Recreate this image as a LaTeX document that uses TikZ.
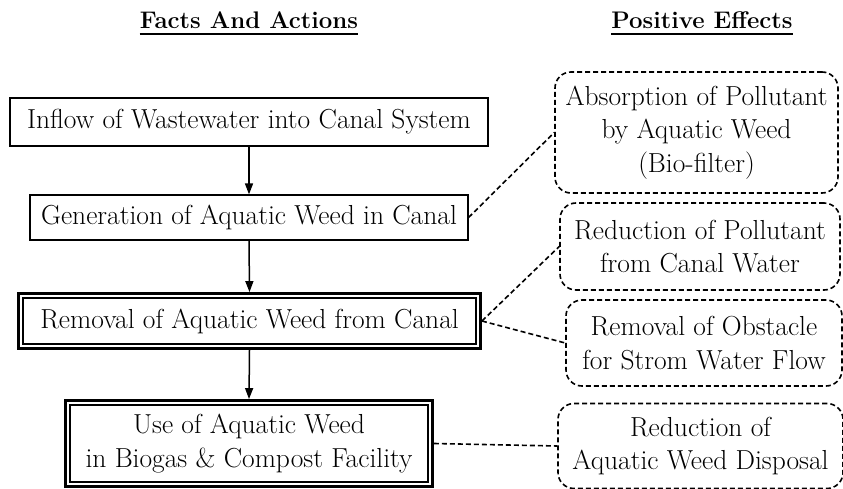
\documentclass[tikz,border=0pt]{standalone}
\usepackage{fontspec}
\setmainfont{Latin Modern Roman}
\usetikzlibrary{arrows.meta,calc,fit}
\begin{document}
\begin{tikzpicture}[x=1pt,y=1pt,
  txt/.style={font=\rmfamily\fontsize{27.5}{33.5}\selectfont, align=center, inner sep=0pt},
  head/.style={font=\rmfamily\fontsize{24}{30}\selectfont\bfseries, inner sep=0pt, anchor=base},
  plainbox/.style={txt, draw, line width=1.2pt},
  innerbox/.style={txt, draw, line width=1.3pt},
  outerbox/.style={draw, line width=2.6pt, inner sep=4pt},
  effect/.style={txt, draw, line width=1.6pt, dash pattern=on 5pt off 3pt, rounded corners=16pt},
  flow/.style={line width=1.5pt, -{Triangle[length=11pt,width=8pt]}},
  link/.style={line width=1.6pt, dash pattern=on 5pt off 3pt}
]
\useasboundingbox (0,0) rectangle (843,-489);
\begin{scope}
\clip (0,0) rectangle (843,-489);
% headings
\node[head] (h1) at (249,-29) {Facts And Actions};
\node[head] (h2) at (702,-29) {Positive Effects};
\draw[line width=2.4pt] ($(h1.base west)+(0,-5)$) -- ($(h1.base east)+(0,-5)$);
\draw[line width=2.4pt] ($(h2.base west)+(0,-5)$) -- ($(h2.base east)+(0,-5)$);
% left column
\node[plainbox, minimum width=478pt, minimum height=48pt] (n1) at (249,-122) {Inflow of Wastewater into Canal System};
\node[plainbox, minimum width=438pt, minimum height=45pt] (n2) at (249,-217.5) {Generation of Aquatic Weed in Canal};
\node[innerbox, minimum width=453pt, minimum height=46pt] (n3) at (249.5,-321) {Removal of Aquatic Weed from Canal};
\node[outerbox, fit=(n3)] (n3o) {};
\node[innerbox, minimum width=358pt, minimum height=77pt] (n4) at (249,-443.5) {Use of Aquatic Weed\\in Biogas \& Compost Facility};
\node[outerbox, fit=(n4)] (n4o) {};
% right column
\node[effect, minimum width=283pt, minimum height=121pt] (A) at (696.5,-132.5) {Absorption of Pollutant\\by Aquatic Weed\\(Bio-filter)};
\node[effect, minimum width=280pt, minimum height=87pt] (B) at (700,-246.5) {Reduction of Pollutant\\from Canal Water};
\node[effect, minimum width=276pt, minimum height=86pt] (C) at (704,-343) {Removal of Obstacle\\for Strom Water Flow};
\node[effect, minimum width=285pt, minimum height=85pt] (D) at (700.5,-446) {Reduction of\\Aquatic Weed Disposal};
% flow arrows
\draw[flow] (n1.south) -- (n2.north);
\draw[flow] (n2.south) -- (n3o.north);
\draw[flow] (n3o.south) -- (n4o.north);
% dashed links
\draw[link] (n2.east) -- (A.west);
\draw[link] (n3o.east) -- (B.west);
\draw[link] (n3o.east) -- (C.west);
\draw[link] (n4o.east) -- (D.west);
\end{scope}
\end{tikzpicture}
\end{document}
